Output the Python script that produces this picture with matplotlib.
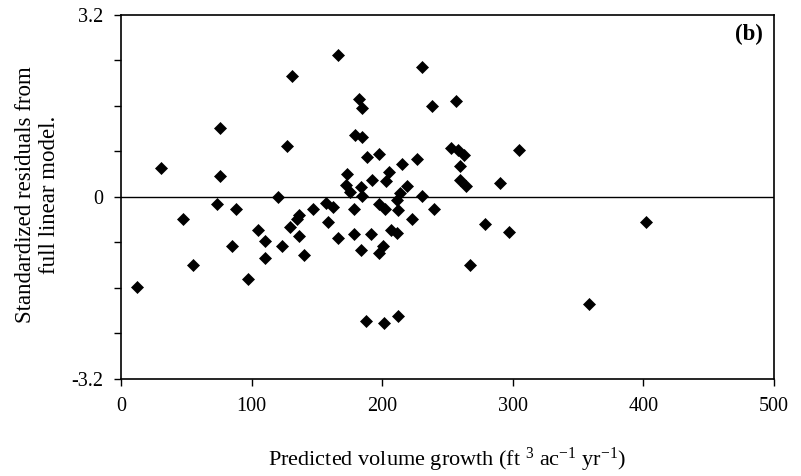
import matplotlib
matplotlib.use("Agg")
import matplotlib.pyplot as plt
from matplotlib.ticker import MultipleLocator, FuncFormatter

plt.rcParams['font.family'] = ['Liberation Serif', 'DejaVu Serif']
plt.rcParams['mathtext.fontset'] = 'custom'
plt.rcParams['mathtext.rm'] = 'Liberation Serif'
plt.rcParams['mathtext.it'] = 'Liberation Serif:italic'
plt.rcParams['mathtext.bf'] = 'Liberation Serif:bold'

# predicted volume growth vs standardized residual
predicted = [30.4, 76.1, 76.1, 131.0, 127.2, 120.5, 166.5, 230.7, 182.1, 184.7,
             238.5, 256.7, 179.1, 184.9, 188.7, 197.9, 215.1, 226.6, 252.6, 258.0,
             263.1, 259.5, 305.2, 172.9, 192.6, 205.6, 203.1, 259.8, 264.4, 290.7,
             172.2, 175.5, 183.7, 218.9, 213.8, 230.9, 184.7, 211.7, 146.9, 157.1,
             162.2, 178.5, 197.9, 202.5, 212.0, 239.8, 136.4, 135.1, 158.6, 223.0,
             278.9, 297.3, 136.0, 166.5, 178.5, 191.3, 206.9, 211.3, 140.5, 183.7,
             200.5, 197.7, 267.2, 187.5, 201.8, 212.0, 73.6, 88.1, 47.5, 55.4,
             12.3, 84.8, 97.1, 104.8, 110.3, 110.3, 123.1, 129.7, 358.8, 402.1]
residuals = [0.51, 1.21, 0.36, 2.13, 0.90, -0.01, 2.50, 2.28, 1.72, 1.56,
             1.59, 1.69, 1.09, 1.05, 0.70, 0.76, 0.57, 0.67, 0.85, 0.82,
             0.73, 0.55, 0.82, 0.40, 0.30, 0.43, 0.27, 0.30, 0.19, 0.25,
             0.20, 0.08, 0.18, 0.19, 0.06, 0.02, 0.01, -0.05, -0.21, -0.11,
             -0.18, -0.21, -0.12, -0.22, -0.24, -0.21, -0.32, -0.39, -0.45, -0.39,
             -0.47, -0.62, -0.68, -0.72, -0.65, -0.65, -0.59, -0.63, -1.02, -0.93,
             -0.86, -0.98, -1.20, -2.19, -2.21, -2.10, -0.12, -0.21, -0.39, -1.20,
             -1.58, -0.87, -1.44, -0.59, -0.78, -1.08, -0.87, -0.53, -1.89, -0.45]

y_labelled = [-3.2, 0.0, 3.2]

fig = plt.figure(figsize=(8.01, 4.76), dpi=100)
ax = fig.add_axes([0.151, 0.204, 0.815, 0.765])

ax.axhline(0, color='black', linewidth=1.0, zorder=1)
ax.plot(predicted, residuals, linestyle='none', marker='D', markersize=5.8,
        color='black', markeredgewidth=0.5, zorder=2)

ax.set_xlim(0, 500)
ax.set_ylim(-3.2, 3.2)
ax.xaxis.set_major_locator(MultipleLocator(100))
ax.yaxis.set_major_locator(MultipleLocator(0.8))


def ylab(v, pos):
    for t in y_labelled:
        if abs(v - t) < 1e-6:
            return '0' if t == 0 else '%.1f' % t
    return ''


ax.yaxis.set_major_formatter(FuncFormatter(ylab))
ax.tick_params(direction='out', length=5, width=1, labelsize=14.5, pad=8)

for s in ax.spines.values():
    s.set_linewidth(1.2)

ax.set_ylabel('Standardized residuals from\nfull linear model.', fontsize=16.5,
              va='center', ha='center', linespacing=1.15)
ax.yaxis.set_label_coords(-0.128, 0.505)
ax.set_xlabel(r'Predicted volume growth (ft $^{3}$ ac$^{-1}$ yr$^{-1}$)', fontsize=16,
              va='center')
ax.xaxis.set_label_coords(0.5, -0.222)

ax.text(0.983, 0.947, '(b)', transform=ax.transAxes, ha='right', va='center',
        fontsize=16.5, fontweight='bold')

fig.savefig('out.png', dpi=100)
